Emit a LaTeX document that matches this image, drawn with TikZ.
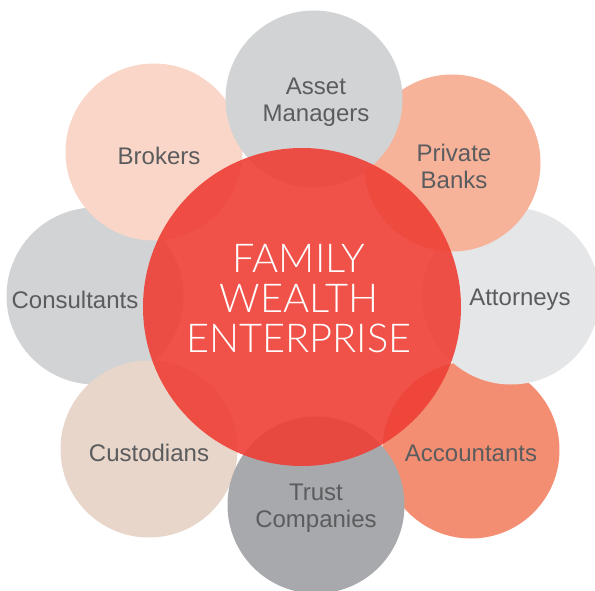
\documentclass[tikz,border=0pt]{standalone}
\usepackage{fontspec}
\setmainfont{Liberation Sans}
\newfontfamily\lightfont{Lato Light}
\definecolor{labelgray}{HTML}{5B5C5E}
\definecolor{coreRed}{RGB}{238,63,53}
\definecolor{greyMid}{HTML}{D1D3D4}
\definecolor{greyLight}{HTML}{E5E6E7}
\definecolor{greyDark}{HTML}{A8A9AD}
\definecolor{peachPale}{HTML}{FAD6C8}
\definecolor{salmon}{HTML}{F7B29A}
\definecolor{coral}{HTML}{F48E72}
\definecolor{beige}{HTML}{E8D6CA}
\tikzset{
  bubble/.style={circle, draw=none, inner sep=0pt, minimum size=177pt},
  partner/.style={text=labelgray, align=center, yshift=-3.5pt,
    font=\fontsize{24}{27}\selectfont, inner sep=0pt},
  core/.style={circle, draw=none, inner sep=0pt, minimum size=318pt,
    fill=coreRed, fill opacity=0.9},
  coretext/.style={text=white, align=center,
    font=\lightfont\fontsize{39.8}{40}\selectfont, inner sep=0pt}
}
\begin{document}
\begin{tikzpicture}[x=1pt, y=-1pt]
\useasboundingbox (0,0) rectangle (595,591);
% outer ring of partner circles, back to front
\node[bubble, fill=greyMid]   (consultants) at (95,296)  {};
\node[bubble, fill=beige]     (custodians)  at (149,449) {};
\node[bubble, fill=peachPale] (brokers)     at (154,152) {};
\node[bubble, fill=coral]     (accountants) at (471,450) {};
\node[bubble, fill=greyDark]  (trust)       at (316,505) {};
\node[bubble, fill=greyLight] (attorneys)   at (511,296) {};
\node[bubble, fill=salmon]    (banks)       at (452,163) {};
\node[bubble, fill=greyMid]   (asset)       at (314,99)  {};
% translucent centre circle
\node[core] (family) at (302,307) {};
% labels
\node[partner] (lasset)  at ([xshift=2pt]asset.center) {Asset\\Managers};
\node[partner] (lbanks)  at ([xshift=2pt]banks.center) {Private\\Banks};
\node[partner] (latt)    at ([xshift=9pt]attorneys.center) {Attorneys};
\node[partner] (lacc)    at (accountants) {Accountants};
\node[partner] (ltrust)  at (trust.center) {Trust\\Companies};
\node[partner] (lcust)   at (custodians)  {Custodians};
\node[partner] (lcons)   at ([xshift=-20pt]consultants.center) {Consultants};
\node[partner] (lbrok)   at ([xshift=5pt]brokers.center) {Brokers};
\node[coretext] (lfamily) at ([xshift=-3pt, yshift=8.5pt]family.center) {FAMILY\\WEALTH\\ENTERPRISE};
\end{tikzpicture}
\end{document}
